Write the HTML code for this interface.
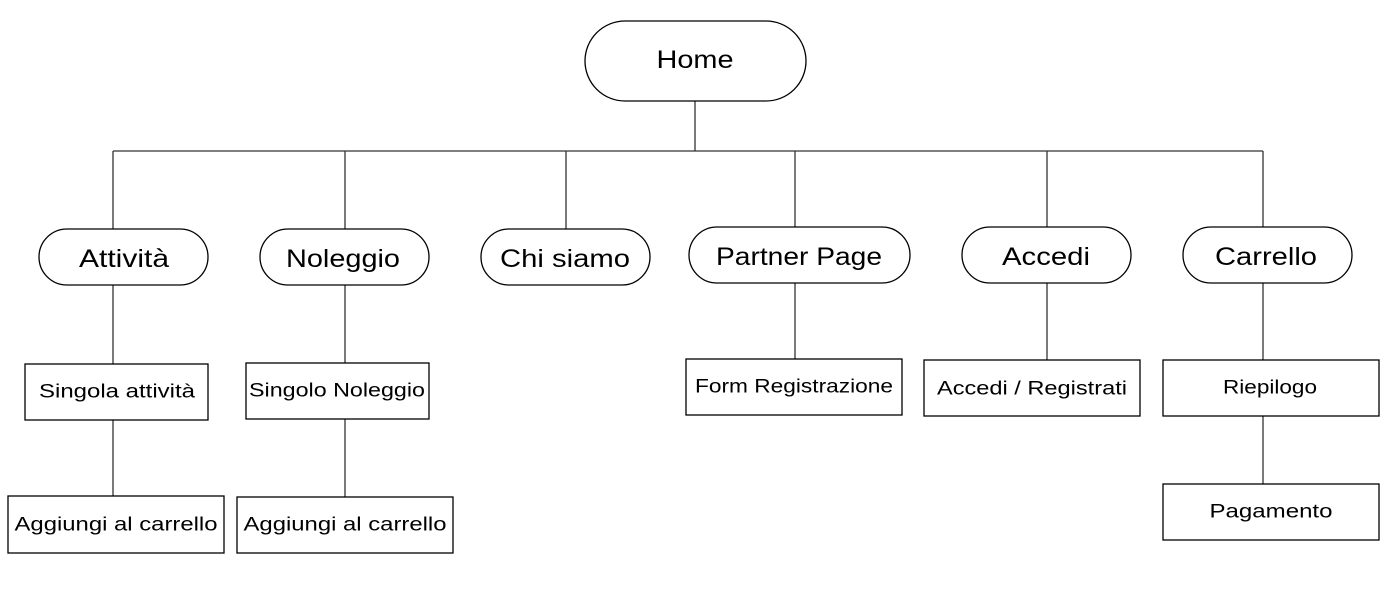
<!DOCTYPE html>
<html><head><meta charset="utf-8"><style>
html,body{margin:0;padding:0;background:#fff;}
svg{display:block;}
text{font-family:"Liberation Sans",sans-serif;fill:#000;text-anchor:middle;dominant-baseline:central;}
.p{font-size:25px;}
.b{font-size:19px;}
</style></head><body>
<svg width="1397" height="600" viewBox="0 0 1397 600" xmlns="http://www.w3.org/2000/svg">
<g stroke="#333" stroke-width="1.3" fill="none">
<line x1="695" y1="101" x2="695" y2="151"/>
<line x1="113" y1="151" x2="1263" y2="151"/>
<line x1="113" y1="151" x2="113" y2="229"/>
<line x1="345" y1="151" x2="345" y2="229"/>
<line x1="566" y1="151" x2="566" y2="229"/>
<line x1="795" y1="151" x2="795" y2="227"/>
<line x1="1047" y1="151" x2="1047" y2="227"/>
<line x1="1263" y1="151" x2="1263" y2="227"/>
<line x1="113" y1="285" x2="113" y2="364"/>
<line x1="113" y1="420" x2="113" y2="496"/>
<line x1="345" y1="285" x2="345" y2="363"/>
<line x1="345" y1="419" x2="345" y2="497"/>
<line x1="795" y1="283" x2="795" y2="359"/>
<line x1="1047" y1="283" x2="1047" y2="360"/>
<line x1="1263" y1="283" x2="1263" y2="360"/>
<line x1="1263" y1="416" x2="1263" y2="484"/>
</g>
<g stroke="#000" stroke-width="1.3" fill="#fff">
<rect x="585" y="21" width="221" height="80" rx="40"/>
<rect x="39" y="229" width="169" height="56" rx="28"/>
<rect x="260" y="229" width="169" height="56" rx="28"/>
<rect x="481" y="229" width="169" height="56" rx="28"/>
<rect x="689" y="227" width="221" height="56" rx="28"/>
<rect x="962" y="227" width="169" height="56" rx="28"/>
<rect x="1183" y="227" width="169" height="56" rx="28"/>
<rect x="25" y="364" width="183" height="56"/>
<rect x="8" y="496" width="216" height="57"/>
<rect x="246" y="363" width="183" height="56"/>
<rect x="237" y="497" width="216" height="56"/>
<rect x="686" y="359" width="216" height="56"/>
<rect x="924" y="360" width="216" height="56"/>
<rect x="1163" y="360" width="216" height="56"/>
<rect x="1163" y="484" width="216" height="56"/>
</g>
<text class="p" x="695" y="60" textLength="77" lengthAdjust="spacingAndGlyphs">Home</text>
<text class="p" x="124" y="259" textLength="90" lengthAdjust="spacingAndGlyphs">Attività</text>
<text class="p" x="343" y="259" textLength="114" lengthAdjust="spacingAndGlyphs">Noleggio</text>
<text class="p" x="565" y="259" textLength="130" lengthAdjust="spacingAndGlyphs">Chi siamo</text>
<text class="p" x="799" y="257" textLength="166" lengthAdjust="spacingAndGlyphs">Partner Page</text>
<text class="p" x="1046" y="257" textLength="88" lengthAdjust="spacingAndGlyphs">Accedi</text>
<text class="p" x="1266" y="257" textLength="102" lengthAdjust="spacingAndGlyphs">Carrello</text>
<text class="b" x="117" y="392" textLength="156" lengthAdjust="spacingAndGlyphs">Singola attività</text>
<text class="b" x="116" y="525" textLength="203" lengthAdjust="spacingAndGlyphs">Aggiungi al carrello</text>
<text class="b" x="337" y="391" textLength="176" lengthAdjust="spacingAndGlyphs">Singolo Noleggio</text>
<text class="b" x="345" y="525" textLength="203" lengthAdjust="spacingAndGlyphs">Aggiungi al carrello</text>
<text class="b" x="794" y="387" textLength="198" lengthAdjust="spacingAndGlyphs">Form Registrazione</text>
<text class="b" x="1032" y="389" textLength="190" lengthAdjust="spacingAndGlyphs">Accedi / Registrati</text>
<text class="b" x="1270" y="388" textLength="94" lengthAdjust="spacingAndGlyphs">Riepilogo</text>
<text class="b" x="1271" y="512" textLength="123" lengthAdjust="spacingAndGlyphs">Pagamento</text>
</svg>
</body></html>
